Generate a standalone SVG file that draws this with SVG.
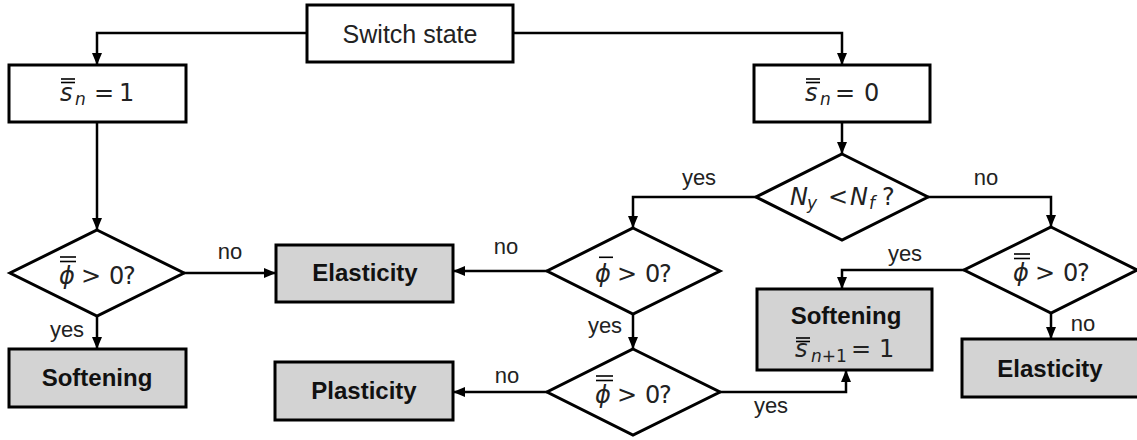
<svg xmlns="http://www.w3.org/2000/svg" width="1137" height="440" viewBox="0 0 1137 440">
<style>
.box{fill:#ffffff;stroke:#000;stroke-width:3}
.res{fill:#d3d3d3;stroke:#000;stroke-width:3}
.dia{fill:#ffffff;stroke:#000;stroke-width:3}
.con{fill:none;stroke:#000;stroke-width:2.5;marker-end:url(#ah)}
.t{font-family:"Liberation Sans",Arial,sans-serif;font-size:25px;fill:#222;text-anchor:middle}
.b{font-family:"Liberation Sans",Arial,sans-serif;font-size:24px;font-weight:bold;fill:#111;text-anchor:middle}
.lbl{font-family:"Liberation Sans",Arial,sans-serif;font-size:22px;fill:#222;text-anchor:middle}
.m{font-family:"DejaVu Sans","Liberation Sans",sans-serif;font-size:24px;fill:#222}
.i{font-style:italic}
.sub{font-size:17px}
.ol{stroke:#000;stroke-width:1.6}
</style>
<defs>
<marker id="ah" markerWidth="12" markerHeight="10" refX="12" refY="5" orient="auto" markerUnits="userSpaceOnUse"><path d="M0,0 L12,5 L0,10 z" fill="#000"/></marker>
</defs>
<g id="connectors">
<path class="con" d="M307,33 H97 V65"/>
<path class="con" d="M513,33 H842 V65"/>
<path class="con" d="M97,122 V230"/>
<path class="con" d="M842,122 V154"/>
<path class="con" d="M756,197 H633 V228"/>
<path class="con" d="M928,197 H1051 V227"/>
<path class="con" d="M184,273 H276"/>
<path class="con" d="M97,316 V349"/>
<path class="con" d="M547,271 H453"/>
<path class="con" d="M633,314 V349"/>
<path class="con" d="M547,392 H453"/>
<path class="con" d="M720,392 H846 V370"/>
<path class="con" d="M964,270 H842 V289"/>
<path class="con" d="M1051,313 V339"/>
<text class="lbl" x="699" y="185">yes</text>
<text class="lbl" x="986" y="185">no</text>
<text class="lbl" x="230" y="259">no</text>
<text class="lbl" x="67" y="337">yes</text>
<text class="lbl" x="506" y="254">no</text>
<text class="lbl" x="605" y="333">yes</text>
<text class="lbl" x="507" y="383">no</text>
<text class="lbl" x="771" y="413">yes</text>
<text class="lbl" x="905" y="261">yes</text>
<text class="lbl" x="1083" y="331">no</text>
</g>
<g id="start">
<rect class="box" x="307" y="5" width="206" height="57"/>
<text class="t" x="410" y="43">Switch state</text>
</g>
<g id="s1">
<rect class="box" x="9" y="65" width="177" height="57"/>
<line class="ol" x1="61" y1="79" x2="75" y2="79"/>
<line class="ol" x1="61" y1="82.5" x2="75" y2="82.5"/>
<text class="m" y="101"><tspan class="i" x="60">s</tspan><tspan class="i sub" x="75" y="105">n</tspan><tspan x="94" y="101">=</tspan><tspan x="119">1</tspan></text>
</g>
<g id="s0">
<rect class="box" x="754" y="65" width="176" height="57"/>
<line class="ol" x1="806" y1="79" x2="820" y2="79"/>
<line class="ol" x1="806" y1="82.5" x2="820" y2="82.5"/>
<text class="m" y="101"><tspan class="i" x="805">s</tspan><tspan class="i sub" x="820" y="105">n</tspan><tspan x="835" y="101">=</tspan><tspan x="864">0</tspan></text>
</g>
<g id="dec-nf">
<polygon class="dia" points="842,154 928,197 842,240 756,197"/>
<text class="m" y="205"><tspan class="i" x="790">N</tspan><tspan class="i sub" x="807" y="209">y</tspan><tspan x="828" y="205">&lt;</tspan><tspan class="i" x="850">N</tspan><tspan class="i sub" x="869" y="209">f</tspan><tspan x="882" y="205">?</tspan></text>
</g>
<g id="dec-left">
<polygon class="dia" points="97,230 184,273 97,316 10,273"/>
<line class="ol" x1="60" y1="257" x2="76" y2="257"/>
<line class="ol" x1="60" y1="261.5" x2="76" y2="261.5"/>
<text class="m" y="284"><tspan class="i" x="59">ϕ</tspan><tspan x="81">&gt;</tspan><tspan x="109">0</tspan><tspan x="123">?</tspan></text>
</g>
<g id="dec-mid1">
<polygon class="dia" points="633,228 720,271 633,314 547,271"/>
<line class="ol" x1="599" y1="257.3" x2="613" y2="257.3"/>
<text class="m" y="282"><tspan class="i" x="595">ϕ</tspan><tspan x="617">&gt;</tspan><tspan x="645">0</tspan><tspan x="659">?</tspan></text>
</g>
<g id="dec-mid2">
<polygon class="dia" points="633,349 720,392 633,435 547,392"/>
<line class="ol" x1="596" y1="376" x2="613" y2="376"/>
<line class="ol" x1="596" y1="380.5" x2="613" y2="380.5"/>
<text class="m" y="403"><tspan class="i" x="595">ϕ</tspan><tspan x="617">&gt;</tspan><tspan x="645">0</tspan><tspan x="659">?</tspan></text>
</g>
<g id="dec-right">
<polygon class="dia" points="1051,227 1137,270 1051,313 964,270"/>
<line class="ol" x1="1014" y1="254" x2="1030" y2="254"/>
<line class="ol" x1="1014" y1="258.5" x2="1030" y2="258.5"/>
<text class="m" y="281"><tspan class="i" x="1013">ϕ</tspan><tspan x="1035">&gt;</tspan><tspan x="1063">0</tspan><tspan x="1077">?</tspan></text>
</g>
<g id="elasticity-1">
<rect class="res" x="276" y="245" width="177" height="57"/>
<text class="b" x="365" y="281">Elasticity</text>
</g>
<g id="plasticity">
<rect class="res" x="275" y="362" width="178" height="58"/>
<text class="b" x="364" y="399">Plasticity</text>
</g>
<g id="softening-1">
<rect class="res" x="9" y="349" width="177" height="58"/>
<text class="b" x="97" y="386">Softening</text>
</g>
<g id="softening-2">
<rect class="res" x="757" y="289" width="175" height="81"/>
<text class="b" x="846" y="324">Softening</text>
<line class="ol" x1="796" y1="338" x2="810" y2="338"/>
<line class="ol" x1="796" y1="341.5" x2="810" y2="341.5"/>
<text class="m" y="357"><tspan class="i" x="795">s</tspan><tspan class="sub" x="811" y="362"><tspan class="i">n</tspan>+1</tspan><tspan x="851" y="357">=</tspan><tspan x="879">1</tspan></text>
</g>
<g id="elasticity-2">
<rect class="res" x="962" y="339" width="178" height="58"/>
<text class="b" x="1050" y="377">Elasticity</text>
</g>
</svg>
